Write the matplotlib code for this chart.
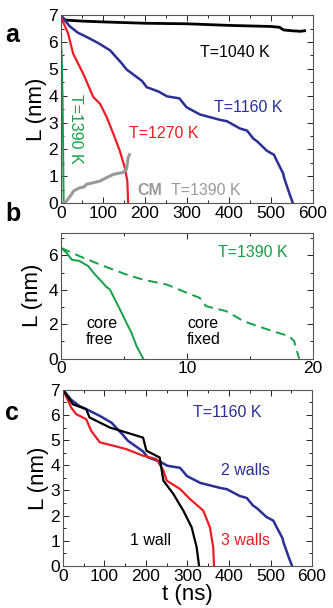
import matplotlib
matplotlib.use("Agg")
import matplotlib.pyplot as plt
import matplotlib.ticker as tkr

plt.rcParams['font.family'] = ['Liberation Sans', 'DejaVu Sans']

BLUE = '#2a2f94'
RED = '#ec1c24'
GREEN = '#14a046'
GRAY = '#9a9a9a'

# panel a / c : T=1160 K, 2 walls
t_1160 = [0, 20, 40, 61, 89, 117, 145, 156, 193, 204, 233, 252, 282, 299, 331, 379, 395,
          426, 443, 458, 467, 490, 507, 513, 529, 531, 545, 552]
L_1160 = [7.0, 6.6, 6.35, 6.19, 5.96, 5.69, 5.2, 4.98, 4.55, 4.32, 4.15, 3.98, 3.9, 3.57,
          3.3, 3.1, 3.05, 2.78, 2.7, 2.4, 2.3, 1.95, 1.8, 1.6, 1.1, 0.95, 0.3, 0.0]

# panel a : T=1040 K
t_1040 = [0, 10, 50, 100, 200, 300, 400, 450, 500, 520, 530, 550, 570, 580]
L_1040 = [6.95, 6.82, 6.78, 6.75, 6.7, 6.68, 6.62, 6.6, 6.58, 6.55, 6.45, 6.42, 6.4, 6.42]

# panel a : T=1270 K
t_1270 = [0, 17, 29, 53, 77, 93, 109, 125, 140, 152, 158, 160]
L_1270 = [6.94, 6.32, 5.57, 4.82, 3.95, 3.7, 3.2, 2.57, 1.95, 1.32, 0.82, 0.0]

# panel a : centre of mass, T=1390 K
t_cm = [5, 13, 25, 30, 45, 55, 61, 77, 93, 109, 125, 148, 156, 160, 163]
L_cm = [0.0, 0.07, 0.32, 0.45, 0.57, 0.6, 0.7, 0.76, 0.82, 0.95, 1.07, 1.14, 1.26, 1.7, 1.8]

# panel b : T=1390 K, core free / core fixed
t_free = [0, 0.45, 0.85, 1.5, 2.17, 2.7, 3.2, 3.6, 3.88, 4.28, 4.68, 5.2, 5.6, 6.0, 6.53]
L_free = [6.43, 6.14, 5.75, 5.66, 5.37, 4.88, 4.5, 4.17, 4.02, 3.44, 2.86, 2.08, 1.5, 0.73, 0.0]
t_fixed = [0, 1.5, 3.1, 5.2, 6.5, 8.4, 10.0, 11.0, 11.5, 13.1, 14.5, 15.2, 16.8, 18.1, 18.5, 18.9]
L_fixed = [6.43, 5.94, 5.46, 4.88, 4.59, 4.3, 3.82, 3.53, 3.05, 2.76, 2.18, 1.99, 1.6, 1.31, 1.02, 0.0]

# panel c : 1 wall, 3 walls
t_1wall = [0, 24, 56, 64, 113, 153, 193, 201, 233, 242, 266, 290, 310, 322, 328]
L_1wall = [7.0, 6.42, 6.23, 5.9, 5.5, 5.3, 5.1, 4.58, 4.31, 3.39, 2.86, 2.2, 1.54, 0.75, 0.0]
t_3wall = [0, 20, 32, 56, 68, 89, 121, 153, 193, 225, 242, 250, 282, 306, 338, 354, 362, 364]
L_3wall = [7.0, 6.29, 6.03, 5.83, 5.37, 4.91, 4.78, 4.64, 4.38, 4.25, 3.79, 3.39, 3.06, 2.66,
           2.2, 1.54, 0.75, 0.0]


def style(ax, xmaj, xmin, ymaj, ymin):
    ax.xaxis.set_major_locator(tkr.MultipleLocator(xmaj))
    ax.xaxis.set_minor_locator(tkr.MultipleLocator(xmin))
    ax.yaxis.set_major_locator(tkr.MultipleLocator(ymaj))
    ax.yaxis.set_minor_locator(tkr.MultipleLocator(ymin))
    ax.tick_params(which='both', direction='in', top=True, right=True, labelsize=12.5, pad=2)
    ax.tick_params(which='major', length=4, width=0.6)
    ax.tick_params(which='minor', length=2.5, width=0.6)
    for s in ax.spines.values():
        s.set_color('#555555')
        s.set_linewidth(0.8)


fig = plt.figure(figsize=(3.33, 6.08), dpi=100)
fs = 11.5

# ---- a ----
ax = fig.add_axes([0.183, 0.666, 0.757, 0.309])
ax.plot(t_1040, L_1040, color='black', lw=2)
ax.plot(t_1160, L_1160, color=BLUE, lw=1.8)
ax.plot(t_1270, L_1270, color=RED, lw=1.6)
ax.plot(t_free, L_free, color=GREEN, lw=1.4)
ax.plot(t_cm, L_cm, color=GRAY, lw=2.2)
ax.set_xlim(0, 600)
ax.set_ylim(0, 7)
style(ax, 100, 50, 1, 0.5)
ax.set_ylabel('L (nm)', fontsize=16, labelpad=1)
ax.text(414, 5.6, 'T=1040 K', color='black', fontsize=fs, ha='center', va='center')
ax.text(446, 3.57, 'T=1160 K', color=BLUE, fontsize=fs, ha='center', va='center')
ax.text(245, 2.6, 'T=1270 K', color=RED, fontsize=fs, ha='center', va='center')
ax.text(34, 2.75, 'T=1390 K', color=GREEN, fontsize=fs, ha='center', va='center',
        rotation=270)
ax.text(182, 0.48, 'CM', color=GRAY, fontsize=fs, fontweight='bold', ha='left', va='center')
ax.text(262, 0.48, 'T=1390 K', color=GRAY, fontsize=fs, ha='left', va='center')
fig.text(0.015, 0.931, 'a', fontsize=18, fontweight='bold')

# ---- b ----
ax = fig.add_axes([0.183, 0.410, 0.757, 0.207])
ax.plot(t_free, L_free, color=GREEN, lw=1.4)
ax.plot(t_fixed, L_fixed, color=GREEN, lw=1.4, dashes=(5, 3))
ax.set_xlim(0, 20)
ax.set_ylim(0, 7.3)
style(ax, 10, 5, 2, 1)
ax.set_ylabel('L (nm)', fontsize=16, labelpad=4)
ax.text(15.2, 6.14, 'T=1390 K', color=GREEN, fontsize=fs, ha='center', va='center')
ax.text(2.0, 1.56, 'core\nfree', color='black', fontsize=fs, ha='left', va='center',
        linespacing=1.1)
ax.text(10.0, 1.56, 'core\nfixed', color='black', fontsize=fs, ha='left', va='center',
        linespacing=1.1)
fig.text(0.015, 0.636, 'b', fontsize=18, fontweight='bold')

# ---- c ----
ax = fig.add_axes([0.189, 0.069, 0.748, 0.290])
ax.plot(t_1160, L_1160, color=BLUE, lw=1.8)
ax.plot(t_3wall, L_3wall, color=RED, lw=1.6)
ax.plot(t_1wall, L_1wall, color='black', lw=1.6)
ax.set_xlim(0, 600)
ax.set_ylim(0, 7)
style(ax, 100, 50, 1, 0.5)
ax.set_ylabel('L (nm)', fontsize=16, labelpad=1)
ax.set_xlabel('t (ns)', fontsize=16, labelpad=0)
ax.text(396, 6.1, 'T=1160 K', color=BLUE, fontsize=fs, ha='center', va='center')
ax.text(440, 3.78, '2 walls', color=BLUE, fontsize=fs, ha='center', va='center')
ax.text(211, 1.0, '1 wall', color='black', fontsize=fs, ha='center', va='center')
ax.text(439, 1.0, '3 walls', color=RED, fontsize=fs, ha='center', va='center')
fig.text(0.015, 0.31, 'c', fontsize=18, fontweight='bold')

fig.savefig('out.png', dpi=100)
